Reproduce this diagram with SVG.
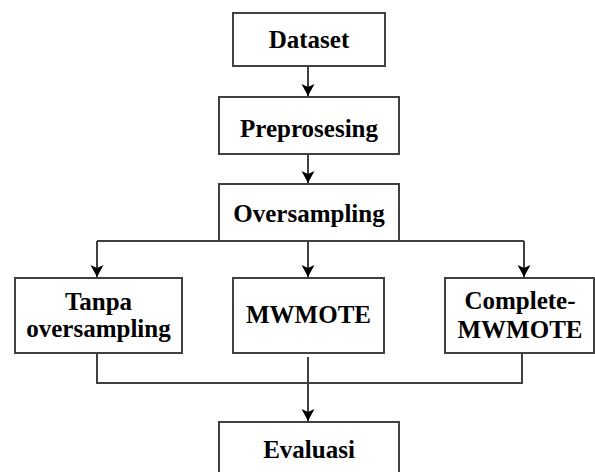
<svg xmlns="http://www.w3.org/2000/svg" width="595" height="472" viewBox="0 0 595 472">
<style>
.box{fill:#fff;stroke:#404040;stroke-width:2}
.t{font-family:"Liberation Serif","Times New Roman",serif;font-weight:bold;font-size:25px;fill:#000;text-anchor:middle}
.c{fill:none;stroke:#404040;stroke-width:2}
</style>
<defs>
<marker id="ah" markerUnits="userSpaceOnUse" markerWidth="14" markerHeight="14" viewBox="0 0 14 14" refX="12" refY="7" orient="auto">
<path d="M0,0.5 L12,7 L0,13.5 L3,7 Z" fill="#000"/>
</marker>
</defs>
<rect width="595" height="472" fill="#fff"/>
<g id="connectors">
<path class="c" d="M308,66 V96" marker-end="url(#ah)"/>
<path class="c" d="M308,154 V183" marker-end="url(#ah)"/>
<path class="c" d="M97,241 H524"/>
<path class="c" d="M97,241 V277" marker-end="url(#ah)"/>
<path class="c" d="M308,241 V277" marker-end="url(#ah)"/>
<path class="c" d="M524,241 V277" marker-end="url(#ah)"/>
<path class="c" d="M97,353 V383 H522 V353"/>
<path class="c" d="M308,357 V421" marker-end="url(#ah)"/>
</g>
<g id="dataset"><rect class="box" x="233" y="13" width="152" height="53"/><text class="t" x="309" y="48">Dataset</text></g>
<g id="preprosesing"><rect class="box" x="219" y="97" width="180" height="57"/><text class="t" x="309" y="137">Preprosesing</text></g>
<g id="oversampling"><rect class="box" x="219" y="184" width="180" height="57"/><text class="t" x="309" y="222">Oversampling</text></g>
<g id="tanpa"><rect class="box" x="15" y="278" width="167" height="75"/><text class="t" x="98.5" y="310">Tanpa</text><text class="t" x="98.5" y="337">oversampling</text></g>
<g id="mwmote"><rect class="box" x="233" y="278" width="151" height="75"/><text class="t" x="308.5" y="323">MWMOTE</text></g>
<g id="complete"><rect class="box" x="445" y="278" width="149" height="75"/><text class="t" x="520" y="309">Complete-</text><text class="t" x="520" y="338">MWMOTE</text></g>
<g id="evaluasi"><rect class="box" x="219" y="422" width="180" height="60"/><text class="t" x="309" y="458">Evaluasi</text></g>
</svg>
